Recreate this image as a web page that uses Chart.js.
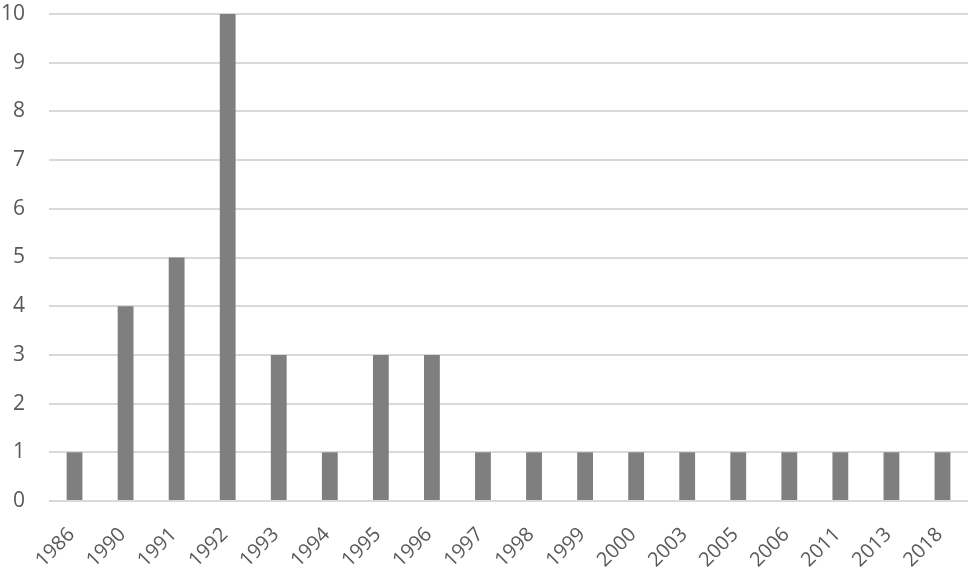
<!DOCTYPE html>
<html>
<head>
<meta charset="utf-8">
<script src="https://cdn.jsdelivr.net/npm/chart.js@4/dist/chart.umd.min.js"></script>
<style>
  html, body { margin: 0; padding: 0; background: #fff; }
  #wrap { width: 969px; height: 570px; position: relative; }
</style>
</head>
<body>
<div id="wrap"><canvas id="chart"></canvas></div>
<script>
// Years and counts
const years = ['1986', '1990', '1991', '1992', '1993', '1994', '1995', '1996', '1997',
               '1998', '1999', '2000', '2003', '2005', '2006', '2011', '2013', '2018'];
const counts = [1, 4, 5, 10, 3, 1, 3, 3, 1, 1, 1, 1, 1, 1, 1, 1, 1, 1];
const yTicks = [0, 1, 2, 3, 4, 5, 6, 7, 8, 9, 10];

const textColor = '#595959';
const gridColor = '#d9d9d9';

new Chart(document.getElementById('chart'), {
    type: 'bar',
    data: {
        labels: years,
        datasets: [{
            data: counts,
            backgroundColor: '#7f7f7f',
            barPercentage: 0.31,
            categoryPercentage: 1.0
        }]
    },
    options: {
        responsive: true,
        maintainAspectRatio: false,
        animation: false,
        layout: { padding: { top: 14, right: 1, left: 0, bottom: 0 } },
        plugins: {
            legend: { display: false },
            tooltip: { enabled: false }
        },
        scales: {
            x: {
                grid: { display: false },
                border: { display: false },
                ticks: {
                    color: textColor,
                    font: { family: 'Open Sans', size: 20 },
                    minRotation: 45,
                    maxRotation: 45,
                    autoSkip: false,
                    padding: 14,
                    labelOffset: -3
                },
                // keep the rotated labels from pushing the plot inward
                afterFit: axis => {
                    axis.paddingLeft = 0;
                    axis.paddingRight = 0;
                    axis.height = 69;
                }
            },
            y: {
                min: 0,
                max: 10,
                afterBuildTicks: axis => { axis.ticks = yTicks.map(v => ({ value: v })); },
                grid: { color: gridColor, lineWidth: 2, drawTicks: false },
                border: { display: false },
                ticks: {
                    color: textColor,
                    font: { family: 'Open Sans', size: 21 },
                    padding: 24
                },
                afterFit: axis => {
                    axis.width = 49;
                    axis.paddingTop = 0;
                    axis.paddingBottom = 0;
                }
            }
        }
    }
});
</script>
</body>
</html>
